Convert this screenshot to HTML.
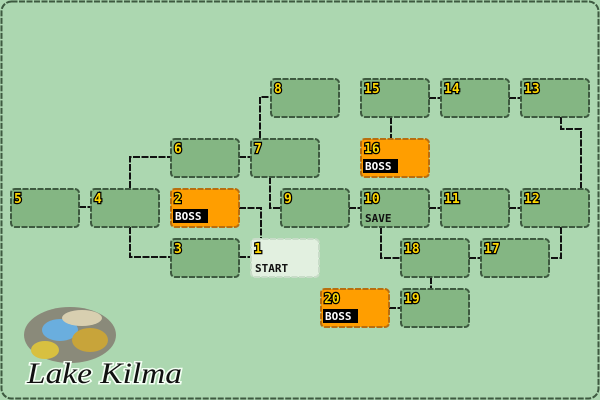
<!DOCTYPE html>
<html><head><style>
body{margin:0;background:#acd7b0;}
svg{display:block}
.n{font:bold 13px "DejaVu Sans Mono","Liberation Mono",monospace;fill:#ffd800;stroke:#000;stroke-width:2.5px;paint-order:stroke;}
.t{font:bold 11px "DejaVu Sans Mono","Liberation Mono",monospace;}
</style></head><body>
<svg width="600" height="400" viewBox="0 0 600 400">
<rect x="0" y="0" width="600" height="400" fill="#acd7b0"/>
<rect x="1.5" y="1.5" width="597" height="397" rx="10" fill="none" stroke="#3e5a40" stroke-width="2" stroke-dasharray="6 1.5"/>
<g fill="none" stroke="#111" stroke-width="2" stroke-dasharray="7 1.5">
<path d="M79 207H90"/>
<path d="M130 188V157H170"/>
<path d="M130 227V257H170"/>
<path d="M239 157H250"/>
<path d="M260 138V97H270"/>
<path d="M270 177V208H280"/>
<path d="M239 208H261V238"/>
<path d="M239 257H250"/>
<path d="M349 208H360"/>
<path d="M429 208H440"/>
<path d="M509 208H520"/>
<path d="M391 117V138"/>
<path d="M429 98H440"/>
<path d="M509 98H520"/>
<path d="M561 117V129H581V188"/>
<path d="M561 227V258H549"/>
<path d="M381 227V258H400"/>
<path d="M469 258H480"/>
<path d="M431 277V288"/>
<path d="M389 308H400"/>
</g>
<g stroke="#3e5a40" stroke-width="2" stroke-dasharray="6 1.5">
<rect x="11" y="189" width="68" height="38" rx="4" fill="#84b683"/>
<rect x="91" y="189" width="68" height="38" rx="4" fill="#84b683"/>
<rect x="171" y="139" width="68" height="38" rx="4" fill="#84b683"/>
<rect x="251" y="139" width="68" height="38" rx="4" fill="#84b683"/>
<rect x="171" y="189" width="68" height="38" rx="4" fill="#ff9e00" stroke="#b86e10"/>
<rect x="171" y="239" width="68" height="38" rx="4" fill="#84b683"/>
<rect x="251" y="239" width="68" height="38" rx="4" fill="#e2f0e0" stroke="#c8dcc8"/>
<rect x="281" y="189" width="68" height="38" rx="4" fill="#84b683"/>
<rect x="271" y="79" width="68" height="38" rx="4" fill="#84b683"/>
<rect x="361" y="79" width="68" height="38" rx="4" fill="#84b683"/>
<rect x="441" y="79" width="68" height="38" rx="4" fill="#84b683"/>
<rect x="521" y="79" width="68" height="38" rx="4" fill="#84b683"/>
<rect x="361" y="139" width="68" height="38" rx="4" fill="#ff9e00" stroke="#b86e10"/>
<rect x="361" y="189" width="68" height="38" rx="4" fill="#84b683"/>
<rect x="441" y="189" width="68" height="38" rx="4" fill="#84b683"/>
<rect x="521" y="189" width="68" height="38" rx="4" fill="#84b683"/>
<rect x="401" y="239" width="68" height="38" rx="4" fill="#84b683"/>
<rect x="481" y="239" width="68" height="38" rx="4" fill="#84b683"/>
<rect x="321" y="289" width="68" height="38" rx="4" fill="#ff9e00" stroke="#b86e10"/>
<rect x="401" y="289" width="68" height="38" rx="4" fill="#84b683"/>
</g>
<g class="n">
<text x="14" y="203">5</text><text x="94" y="203">4</text><text x="174" y="153">6</text>
<text x="254" y="153">7</text><text x="174" y="203">2</text><text x="174" y="253">3</text>
<text x="254" y="253">1</text><text x="284" y="203">9</text><text x="274" y="93">8</text>
<text x="364" y="93">15</text><text x="444" y="93">14</text><text x="524" y="93">13</text>
<text x="364" y="153">16</text><text x="364" y="203">10</text><text x="444" y="203">11</text>
<text x="524" y="203">12</text><text x="404" y="253">18</text><text x="484" y="253">17</text>
<text x="324" y="303">20</text><text x="404" y="303">19</text>
</g>
<rect x="173" y="209" width="35" height="14" fill="#000"/>
<rect x="363" y="159" width="35" height="14" fill="#000"/>
<rect x="323" y="309" width="35" height="14" fill="#000"/>
<g class="t" fill="#fff">
<text x="175" y="220">BOSS</text><text x="365" y="170">BOSS</text><text x="325" y="320">BOSS</text>
</g>
<g class="t" fill="#111">
<text x="255" y="272">START</text><text x="365" y="222">SAVE</text>
</g>
<g>
<ellipse cx="70" cy="335" rx="46" ry="28" fill="#8a8a7a"/>
<ellipse cx="60" cy="330" rx="18" ry="11" fill="#6aaede"/>
<ellipse cx="90" cy="340" rx="18" ry="12" fill="#c8a43a"/>
<ellipse cx="45" cy="350" rx="14" ry="9" fill="#d8c040"/>
<ellipse cx="82" cy="318" rx="20" ry="8" fill="#d8cfb0"/>
</g>
<text x="27" y="383" font-family="Liberation Serif,serif" font-style="italic" font-size="30" textLength="155" lengthAdjust="spacingAndGlyphs" fill="#111" stroke="#f4fff4" stroke-width="3" paint-order="stroke">Lake Kilma</text>
</svg>
</body></html>
